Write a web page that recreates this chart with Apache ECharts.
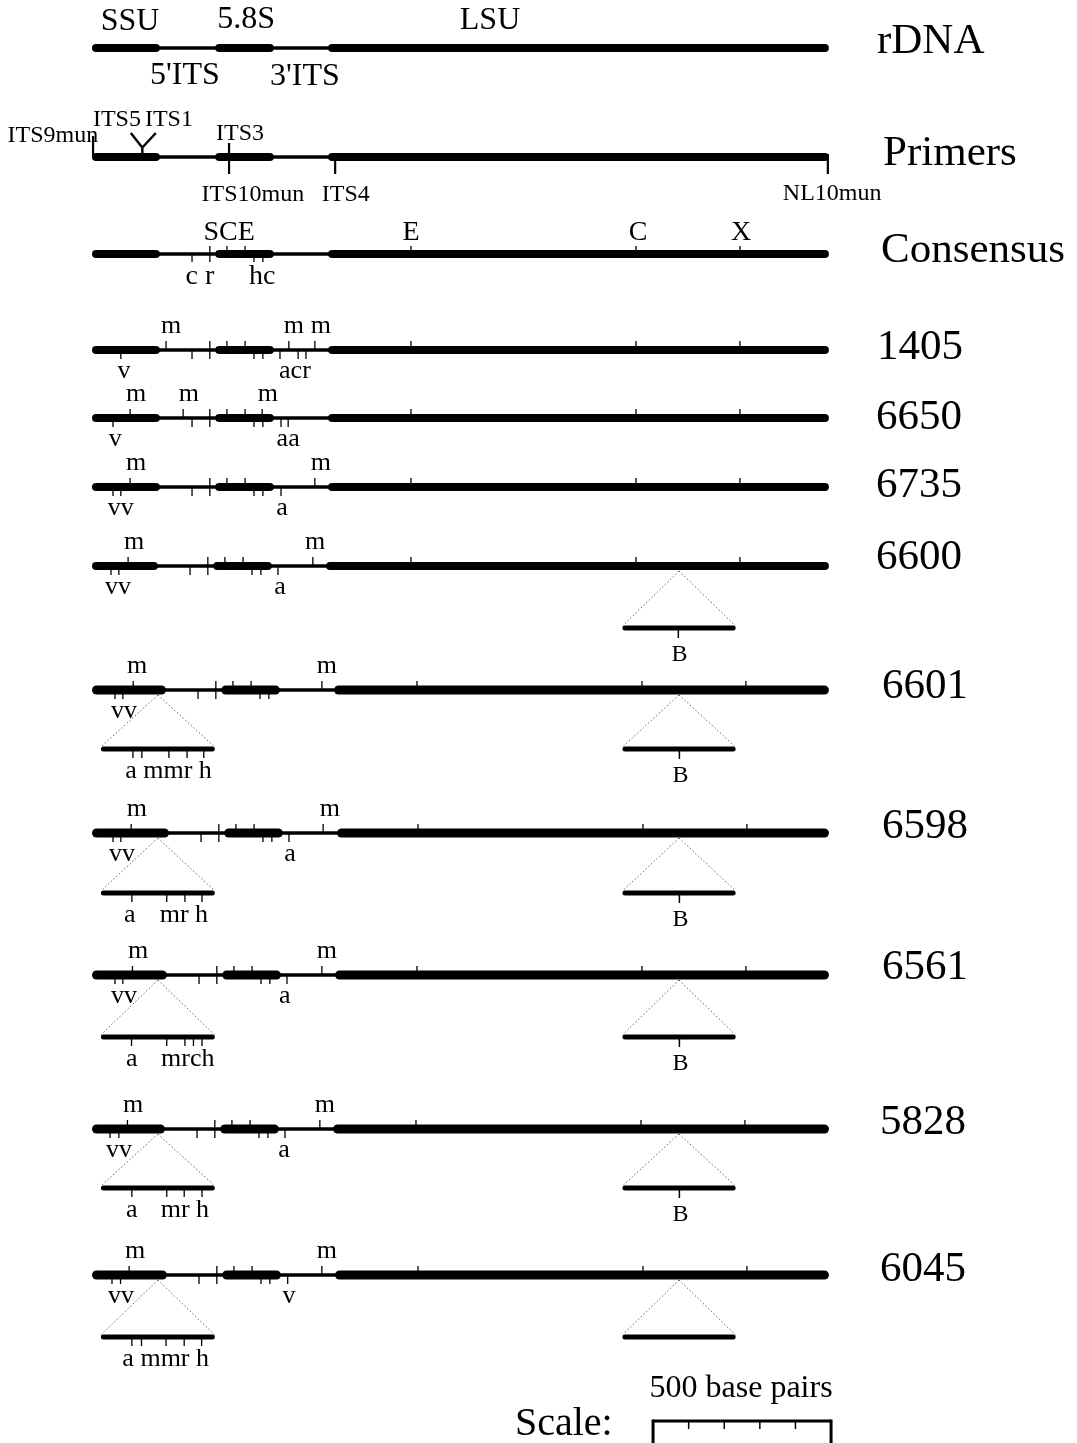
<!DOCTYPE html>
<html><head><meta charset="utf-8">
<script src="https://cdn.jsdelivr.net/npm/echarts@6/dist/echarts.min.js"></script>
<style>html,body{margin:0;padding:0;background:#fff}#c{width:1077px;height:1443px}</style>
</head><body><div id="c"></div>
<script>
// ================= DATA (base pairs) =================
const regionNames = ['SSU', "5'ITS", '5.8S', "3'ITS", 'LSU'];
const regionBounds = [0, 191, 346, 511, 663, 2070];
const regionLabelBp = [107, 261, 433, 598, 1118];

const primerNames = ['ITS9mun', 'ITS5', 'ITS1', 'ITS3', 'ITS10mun', 'ITS4', 'NL10mun'];
const primerBp = [3, 140, 140, 385, 385, 683, 2067];
const primerLabelBp = [-110, 70, 216, 416, 452, 713, 2079];

const consensusMarks = [[281,'d'],[331,'b'],[379,'u'],[430,'u'],[455,'d'],[480,'d'],[896,'u'],[1528,'u'],[1820,'u']];
const consensusLabels = [['SCE',385,'a'],['E',896,'a'],['C',1534,'a'],['X',1823,'a'],['c r',303,'b'],['hc',478,'b']];

const isolates = ['1405','6650','6735','6600','6601','6598','6561','5828','6045'];
const isolateMarks = [
  [[208,'u'],[553,'u'],[626,'u'],[81,'d'],[528,'d'],[579,'d'],[601,'d']],
  [[107,'u'],[256,'u'],[478,'u'],[59,'d'],[531,'d'],[551,'d']],
  [[107,'u'],[626,'u'],[59,'d'],[81,'d'],[531,'d']],
  [[107,'u'],[626,'u'],[59,'d'],[81,'d'],[528,'d']],
  [[110,'u'],[629,'u'],[59,'d'],[81,'d']],
  [[110,'u'],[624,'u'],[59,'d'],[81,'d'],[528,'d']],
  [[108,'u'],[626,'u'],[59,'d'],[81,'d'],[528,'d']],
  [[108,'u'],[626,'u'],[59,'d'],[84,'d'],[528,'d']],
  [[107,'u'],[626,'u'],[59,'d'],[83,'d'],[530,'d']]
];
const isolateLabels = [
  [['m',222,'a'],['m',567,'a'],['m',643,'a'],['v',90,'b'],['acr',570,'b']],
  [['m',124,'a'],['m',272,'a'],['m',494,'a'],['v',65,'b'],['aa',551,'b']],
  [['m',124,'a'],['m',643,'a'],['vv',81,'b'],['a',534,'b']],
  [['m',124,'a'],['m',632,'a'],['vv',79,'b'],['a',534,'b']],
  [['m',121,'a'],['m',643,'a'],['vv',84,'b']],
  [['m',126,'a'],['m',643,'a'],['vv',84,'b'],['a',531,'b']],
  [['m',124,'a'],['m',640,'a'],['vv',84,'b'],['a',522,'b']],
  [['m',124,'a'],['m',640,'a'],['vv',84,'b'],['a',525,'b']],
  [['m',124,'a'],['m',640,'a'],['vv',84,'b'],['v',534,'b']]
];
// insertions: [SSU intron, LSU intron]
const insertSites = [185, 1649];
const insertLengths = [320, 318];
const ssuInsertTicks = [null, null, null, null,
  [90,115,191,242,289], [87,185,236,284], [86,185,236,260,284], [87,185,234,284], [87,114,183,234,283]];
const ssuInsertLabels = [null, null, null, null,
  [['a mmr h',190]], [['a',81],['mr h',233]], [['a',87],['mrch',244]], [['a',87],['mr h',236]], [['a mmr h',182]]];
const lsuInsertTicks = [null, null, null, [157], [160], [160], [160], [160], []];
const lsuInsertLabels = [null, null, null, [['B',160]], [['B',163]], [['B',163]], [['B',163]], [['B',163]], []];

const scaleLength = 500;
const scaleMinorStep = 100;
const scaleStartBp = 1576;

// ================= LAYOUT (pixels) =================
const W = 1077, H = 1443;
const PXBP = 178 / 500;      // px per bp
const X0 = 92;               // px of 0 bp
const FONT = '"Liberation Serif","Times New Roman",serif';
const topY = { rDNA: 48, Primers: 157, Consensus: 254 };
const isoY = [350, 418, 487, 566, 690, 833, 975, 1129, 1275];
const isoInsertY = [null, null, null, 628, 749, 893, 1037, 1188, 1337];
const isoShift = [[0,0,0],[0,0,0],[0,0,0],[-2,-2,0],[2,6,6],[0,9,7],[2,7,6],[-3,5,5],[-1,7,7]];
const isoThick = [8,8,8,8,9,9,9,9,9];
const nameX = { rDNA: 877, Primers: 883, Consensus: 881 };
const nameY = { rDNA: 42, Primers: 154, Consensus: 251 };
const isoNameX = [877, 876, 876, 876, 882, 882, 882, 880, 880];
const isoNameY = [348, 418, 486, 558, 687, 827, 968, 1123, 1270];
const regionLabelY = [22, 76, 20, 77, 21];
const primerLabelY = [136, 120, 120, 134, 195, 195, 194];

// ================= BUILD ELEMENTS =================
const segs = [];
const texts = [];
const p2b = px => px / PXBP;
function seg(x1, y1, x2, y2, w, round, dash) { segs.push([x1, y1, x2, y2, w, round ? 1 : 0, dash ? 1 : 0]); }
function txt(x, y, t, size, align) { texts.push({ value: [x, y], t: t, size: size, align: align || 'center' }); }
function zone(bp, sh) { return bp < regionBounds[1] ? sh[0] : (bp < regionBounds[4] ? sh[1] : sh[2]); }

function backbone(y, sh, thick) {
  const n = regionBounds.length - 1;
  const b = regionBounds.map((v, i) => (i === 0 || i === n) ? v : v + p2b(sh[1]));
  const h = p2b(thick / 2);
  seg(b[1] - h, y, b[2] + h, y, 3.5);
  seg(b[3] - h, y, b[4] + h, y, 3.5);
  seg(b[0] + h, y, b[1] - h, y, thick, true);
  seg(b[2] + h, y, b[3] - h, y, thick, true);
  seg(b[4] + h, y, b[5] - h, y, thick, true);
}
function tick(bp, y, dir, len, w) {
  const y1 = dir === 'd' ? y : y - len;
  const y2 = dir === 'u' ? y : y + len;
  seg(bp, y1, bp, y2, w || 1.3);
}

// rDNA row
backbone(topY.rDNA, [0,0,0], 8);
regionNames.forEach((n, i) => txt(regionLabelBp[i], regionLabelY[i], n, 32));
txt(p2b(nameX.rDNA - X0), nameY.rDNA, 'rDNA', 43, 'left');

// Primers row
const py = topY.Primers;
backbone(py, [0,0,0], 8);
seg(primerBp[0], py - 21, primerBp[0], py, 2.2);                       // ITS9mun
seg(primerBp[1] - p2b(11), py - 24, primerBp[1], py - 10, 2.4);         // ITS5 arm
seg(primerBp[2] + p2b(14), py - 24, primerBp[2] + p2b(1), py - 10, 2.4);// ITS1 arm
seg(primerBp[1] + p2b(0.5), py - 11, primerBp[1] + p2b(0.5), py, 2.4);
seg(primerBp[3], py - 14, primerBp[3], py, 2.2);                        // ITS3
seg(primerBp[4], py, primerBp[4], py + 17, 2.2);                        // ITS10mun
seg(primerBp[5], py, primerBp[5], py + 17, 2.2);                        // ITS4
seg(primerBp[6], py - 3, primerBp[6], py + 17, 2.2);                    // NL10mun
primerNames.forEach((n, i) => txt(primerLabelBp[i], primerLabelY[i], n, 24));
txt(p2b(nameX.Primers - X0), nameY.Primers, 'Primers', 43, 'left');

// Consensus row
const cy = topY.Consensus;
backbone(cy, [0,0,0], 8);
consensusMarks.forEach(m => tick(m[0], cy, m[1], 8));
consensusLabels.forEach(l => {
  if (l[2] === 'a') txt(l[1], cy - 21, l[0], 28);
  else txt(l[1], cy + 23, l[0], 28);
});
txt(p2b(nameX.Consensus - X0), nameY.Consensus, 'Consensus', 43, 'left');

// Isolates
isolates.forEach((name, k) => {
  const y = isoY[k], sh = isoShift[k];
  backbone(y, sh, isoThick[k]);
  consensusMarks.forEach(m => tick(m[0] + p2b(zone(m[0], sh)), y, m[1], 9));
  isolateMarks[k].forEach(m => tick(m[0] + p2b(zone(m[0], sh)), y, m[1], 9));
  isolateLabels[k].forEach(l => {
    const x = l[1] + p2b(zone(l[1], sh));
    if (l[2] === 'a') txt(x, y - 24, l[0], 26);
    else txt(x, y + 21, l[0], 26);
  });
  txt(p2b(isoNameX[k] - X0), isoNameY[k], name, 43, 'left');

  const iy = isoInsertY[k];
  if (ssuInsertTicks[k]) {
    const s = insertSites[0], L = insertLengths[0], x0 = s - L / 2, h = p2b(2.5);
    seg(s, y + 5, x0, iy - 2, 1, false, true);
    seg(s, y + 5, x0 + L, iy - 2, 1, false, true);
    seg(x0 + h, iy, x0 + L - h, iy, 5, true);
    ssuInsertTicks[k].forEach(t => tick(x0 + t, iy, 'd', 9, 1.3));
    ssuInsertLabels[k].forEach(l => txt(x0 + l[1], iy + 22, l[0], 26));
  }
  if (lsuInsertTicks[k]) {
    const s = insertSites[1], L = insertLengths[1], x0 = s - L / 2, h = p2b(2.5);
    seg(s, y + 5, x0, iy - 2, 1, false, true);
    seg(s, y + 5, x0 + L, iy - 2, 1, false, true);
    seg(x0 + h, iy, x0 + L - h, iy, 5, true);
    lsuInsertTicks[k].forEach(t => tick(x0 + t, iy, 'd', 10, 1.5));
    lsuInsertLabels[k].forEach(l => txt(x0 + l[1], iy + 27, l[0], 24));
  }
});

// Scale bar
const sy = 1421;
seg(scaleStartBp, sy, scaleStartBp + scaleLength, sy, 3);
seg(scaleStartBp, sy - 1.5, scaleStartBp, H, 3);
seg(scaleStartBp + scaleLength, sy - 1.5, scaleStartBp + scaleLength, H, 3);
for (let v = scaleMinorStep; v < scaleLength; v += scaleMinorStep) seg(scaleStartBp + v, sy, scaleStartBp + v, sy + 8, 1.5);
txt(p2b(515 - X0), 1424, 'Scale:', 40, 'left');
txt(scaleStartBp + scaleLength / 2 - p2b(1), 1389, scaleLength + ' base pairs', 32);

// ================= CHART =================
const chart = echarts.init(document.getElementById('c'), null, { renderer: 'canvas' });
chart.setOption({
  backgroundColor: '#fff',
  animation: false,
  grid: { left: 0, right: 0, top: 0, bottom: 0 },
  xAxis: { type: 'value', min: p2b(-X0), max: p2b(W - X0), show: false },
  yAxis: { type: 'value', min: 0, max: H, inverse: true, show: false },
  series: [
    {
      type: 'custom', clip: false, silent: true,
      data: segs,
      renderItem: (params, api) => {
        const a = api.coord([api.value(0), api.value(1)]);
        const b = api.coord([api.value(2), api.value(3)]);
        const dashed = api.value(6) === 1;
        return {
          type: 'line',
          shape: { x1: a[0], y1: a[1], x2: b[0], y2: b[1] },
          style: {
            stroke: dashed ? '#666' : '#000',
            lineWidth: api.value(4),
            lineCap: api.value(5) === 1 ? 'round' : 'butt',
            lineDash: dashed ? [1.5, 2.2] : null
          }
        };
      }
    },
    {
      type: 'custom', clip: false, silent: true,
      data: texts.map(t => t.value),
      renderItem: (params, api) => {
        const d = texts[params.dataIndex];
        const p = api.coord([api.value(0), api.value(1)]);
        return {
          type: 'text',
          style: {
            x: p[0], y: p[1], text: d.t,
            font: d.size + 'px ' + FONT,
            fill: '#000', align: d.align, verticalAlign: 'middle'
          }
        };
      }
    }
  ]
});
</script></body></html>
